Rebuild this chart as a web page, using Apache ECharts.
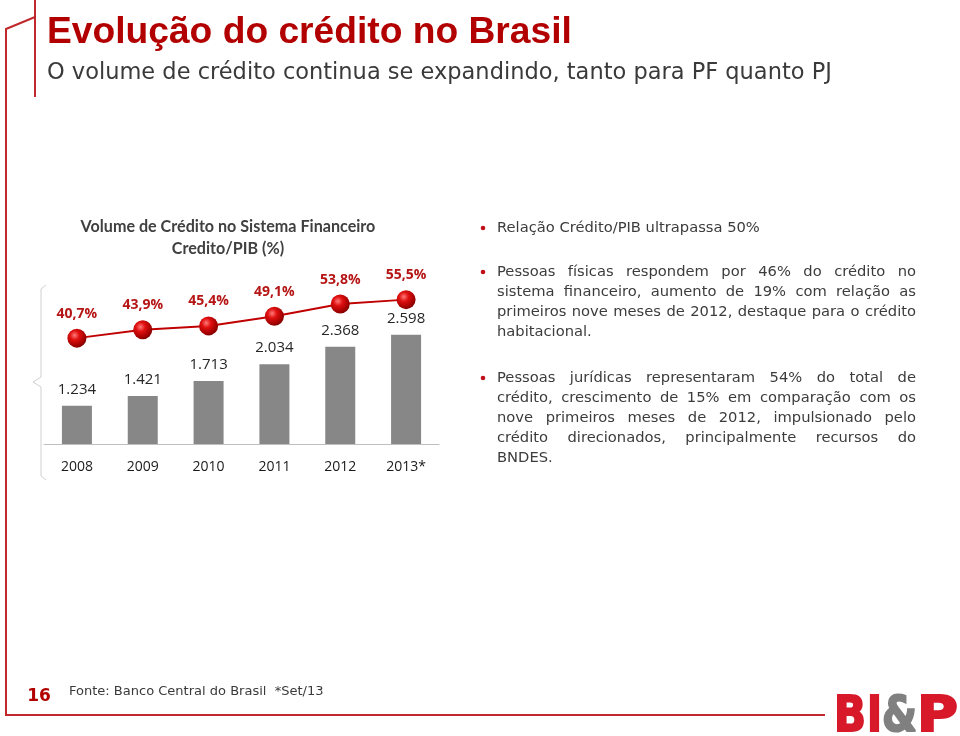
<!DOCTYPE html>
<html>
<head>
<meta charset="utf-8">
<script src="https://cdn.jsdelivr.net/npm/echarts@6/dist/echarts.min.js"></script>
<style>
html,body{margin:0;padding:0;background:#fff;}
#chart{width:960px;height:736px;}
</style>
</head>
<body>
<div id="chart"></div>
<script>
// ---- data ----
const categories = ['2008', '2009', '2010', '2011', '2012', '2013*'];
const creditVolume = [1234, 1421, 1713, 2034, 2368, 2598];
const creditToGdp = [40.7, 43.9, 45.4, 49.1, 53.8, 55.5];

const pageTitle = 'Evolução do crédito no Brasil';
const pageSubtitle = 'O volume de crédito continua se expandindo, tanto para PF quanto PJ';
const chartTitle = ['Volume de Crédito no Sistema Financeiro', 'Credito/PIB (%)'];
const bullets = [
  ['Relação Crédito/PIB ultrapassa 50%'],
  ['Pessoas físicas respondem por 46% do crédito no',
   'sistema financeiro,  aumento de 19% com relação as',
   'primeiros nove meses  de 2012, destaque para o crédito',
   'habitacional.'],
  ['Pessoas jurídicas representaram 54% do total de',
   'crédito,  crescimento de 15% em  comparação com os',
   'nove primeiros  meses de 2012, impulsionado pelo',
   'crédito direcionados, principalmente  recursos do',
   'BNDES.']
];
const footnote = 'Fonte: Banco Central do Brasil  *Set/13';
const pageNumber = '16';

// ---- helpers ----
const cv = document.createElement('canvas').getContext('2d');
function measure(text, size, family, weight) {
  cv.font = (weight || 'normal') + ' ' + size + 'px ' + family;
  return cv.measureText(text).width;
}
function fitSize(text, family, weight, width) {
  return 100 * width / measure(text, 100, family, weight);
}
function fmtThousands(v) {
  return String(v).replace(/\B(?=(\d{3})+(?!\d))/g, '.');
}

const chart = echarts.init(document.getElementById('chart'));
const graphics = [];

// frame lines
graphics.push({type: 'line', shape: {x1: 35, y1: 0, x2: 35, y2: 97}, style: {stroke: '#c0282d', lineWidth: 2}});
graphics.push({type: 'polyline', shape: {points: [[35, 17], [6, 29], [6, 715], [825, 715]]}, style: {stroke: '#c0282d', lineWidth: 2, fill: null}});

// page title
const titleFamily = '"Liberation Sans", Arial, sans-serif';
const titleSize = fitSize(pageTitle, titleFamily, 'bold', 525);
graphics.push({type: 'text', left: 47, top: 14, style: {text: pageTitle, font: 'bold ' + titleSize + 'px ' + titleFamily, fill: '#b20000'}});
const subFamily = '"DejaVu Sans", sans-serif';
const subSize = fitSize(pageSubtitle, subFamily, 'normal', 785);
graphics.push({type: 'text', left: 47, top: 62, style: {text: pageSubtitle, font: subSize + 'px ' + subFamily, fill: '#3a3a3a'}});

// chart title
const ctFamily = 'Lato, "Open Sans", sans-serif';
const ctSize = fitSize(chartTitle[0], ctFamily, 'bold', 295);
chartTitle.forEach((t, i) => {
  graphics.push({type: 'text', x: 228, y: 227 + i * 22, style: {text: t, font: 'bold ' + ctSize + 'px ' + ctFamily, fill: '#404040', align: 'center', verticalAlign: 'middle'}});
});

// brace
graphics.push({type: 'polyline', shape: {points: [[46, 285], [41, 289], [41, 377], [33, 382], [41, 387], [41, 476], [46, 480]]}, style: {stroke: '#d0d0d0', lineWidth: 1, fill: null}});

// right text (justified)
const txtFamily = '"DejaVu Sans", sans-serif';
const txtSize = fitSize(bullets[0][0], txtFamily, 'normal', 263);
const txtFont = txtSize + 'px ' + txtFamily;
const paraTop = [228, 272, 378];
const left = 497, right = 916, lineH = 20;
bullets.forEach((lines, p) => {
  graphics.push({type: 'circle', shape: {cx: 483, cy: paraTop[p], r: 2.3}, style: {fill: '#c0101a'}});
  lines.forEach((ln, i) => {
    const y = paraTop[p] + i * lineH;
    const last = i === lines.length - 1;
    if (last) {
      graphics.push({type: 'text', x: left, y: y, style: {text: ln, font: txtFont, fill: '#3c3c3c', verticalAlign: 'middle'}});
      return;
    }
    const words = ln.split(/\s+/);
    const widths = words.map(w => measure(w, txtSize, txtFamily));
    const total = widths.reduce((a, b) => a + b, 0);
    const gap = (right - left - total) / (words.length - 1);
    let x = left;
    words.forEach((w, k) => {
      graphics.push({type: 'text', x: x, y: y, style: {text: w, font: txtFont, fill: '#3c3c3c', verticalAlign: 'middle'}});
      x += widths[k] + gap;
    });
  });
});

// footer
graphics.push({type: 'text', x: 39, y: 697, style: {text: pageNumber, font: 'bold 17px "DejaVu Sans", sans-serif', fill: '#b20000', align: 'center', verticalAlign: 'middle'}});
const fnSize = fitSize(footnote, txtFamily, 'normal', 255);
graphics.push({type: 'text', x: 69, y: 692, style: {text: footnote, font: fnSize + 'px ' + txtFamily, fill: '#3a3a3a', verticalAlign: 'middle'}});

// logo
const logoLetters = [['B', 834, 866, '#d7192a'], ['I', 867, 882, '#d7192a'], ['&', 882, 917, '#808080'], ['P', 917, 958, '#d7192a']];
const logoFamily = '"DejaVu Sans", sans-serif';
logoLetters.forEach(([ch, x0, x1, col]) => {
  const w = measure(ch, 50, logoFamily, 'bold');
  graphics.push({type: 'text', x: x0, y: 743, scaleX: (x1 - x0) / w, style: {text: ch, font: 'bold 50px ' + logoFamily, fill: col, stroke: col, lineWidth: 2, verticalAlign: 'bottom'}});
});

const redBall = new echarts.graphic.RadialGradient(0.38, 0.35, 0.7, [
  {offset: 0, color: '#ff7a7a'},
  {offset: 0.35, color: '#e01010'},
  {offset: 0.8, color: '#a00000'},
  {offset: 1, color: '#7a0000'}
]);

chart.setOption({
  animation: false,
  backgroundColor: '#ffffff',
  grid: {left: 44, width: 395, top: 290, bottom: 292, containLabel: false},
  xAxis: {
    type: 'category',
    data: categories,
    axisLine: {lineStyle: {color: '#bfbfbf', width: 1}},
    axisTick: {show: false},
    axisLabel: {margin: 16, fontFamily: '"Open Sans", sans-serif', fontSize: 14, color: '#1a1a1a'}
  },
  yAxis: [
    {type: 'value', min: 500, max: 3460, show: false, splitLine: {show: false}},
    {type: 'value', min: 0, max: 59.2, show: false, splitLine: {show: false}}
  ],
  series: [
    {
      type: 'bar',
      data: creditVolume,
      barWidth: 30,
      itemStyle: {color: '#878787'},
      label: {
        show: true, position: 'top', distance: 9,
        formatter: p => fmtThousands(p.value),
        fontFamily: '"Open Sans", sans-serif', fontSize: 15, color: '#262626'
      }
    },
    {
      type: 'line',
      yAxisIndex: 1,
      data: creditToGdp,
      symbol: 'circle',
      symbolSize: 19,
      lineStyle: {color: '#c00000', width: 2},
      itemStyle: {color: redBall},
      label: {
        show: true, position: 'top', distance: 8,
        formatter: p => p.value.toFixed(1).replace('.', ',') + '%',
        fontFamily: '"Open Sans", sans-serif', fontWeight: 'bold', fontSize: 14, color: '#b51515'
      },
      z: 5
    }
  ],
  graphic: graphics
});
</script>
</body>
</html>
